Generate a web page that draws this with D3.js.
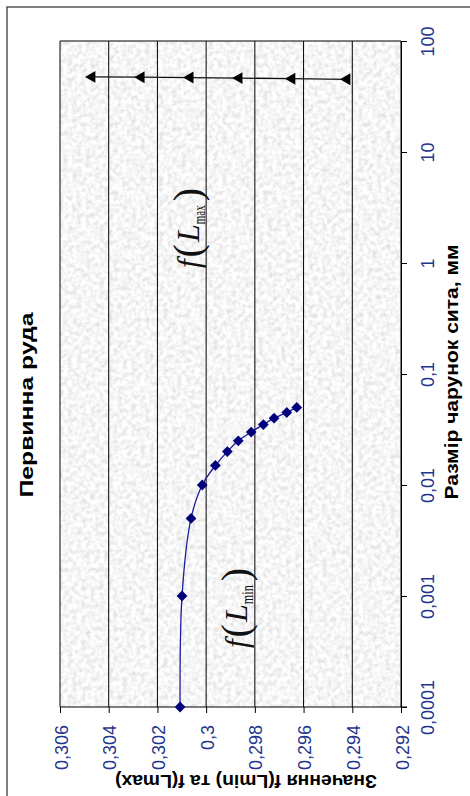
<!DOCTYPE html>
<html>
  <head>
    <meta charset="utf-8" />
    <script src="https://d3js.org/d3.v7.min.js"></script>
    <style>
      body { margin: 0; background: #fff; }
      text { font-family: "Liberation Sans", Arial, sans-serif; }
      .tick-label { fill: #1f3590; font-size: 18px; }
      .axis-title { fill: #000; font-weight: bold; font-size: 19px; }
      .note { font-family: "Liberation Serif", "Times New Roman", serif; fill: #111; }
    </style>
  </head>
  <body>
    <svg id="chart" width="470" height="796"></svg>
    <script>
      // sieve sizes, mm
      const sizeMin = [0.0001, 0.001, 0.005, 0.01, 0.015, 0.02, 0.025, 0.03, 0.035, 0.04, 0.045, 0.05];
      const fMin = [0.30107, 0.30099, 0.30062, 0.30016, 0.29962, 0.29913, 0.29868, 0.29815, 0.29765, 0.29721, 0.29669, 0.29628];
      const sizeMax = [47.5, 47.2, 46.8, 46.3, 45.8, 45.2];
      const fMax = [0.30469, 0.30267, 0.30066, 0.29865, 0.29648, 0.29422];

      const valueTicks = [0.306, 0.304, 0.302, 0.3, 0.298, 0.296, 0.294, 0.292];
      const sizeTicks = [0.0001, 0.001, 0.01, 0.1, 1, 10, 100];

      const svg = d3.select("#chart");
      const pLeft = 60, pRight = 401, pTop = 41, pBottom = 707;

      // value axis runs right-to-left, size axis bottom-to-top (chart is turned)
      const x = d3.scaleLinear().domain([0.306, 0.292]).range([pLeft, pRight]);
      const y = d3.scaleLog().domain([0.0001, 100]).range([pBottom, pTop]);
      const fmt = d => String(d).replace(".", ",");

      // granite background
      const defs = svg.append("defs");
      const flt = defs.append("filter").attr("id", "granite")
        .attr("x", 0).attr("y", 0).attr("width", 1).attr("height", 1);
      flt.append("feTurbulence").attr("type", "fractalNoise")
        .attr("baseFrequency", 0.22).attr("numOctaves", 3).attr("seed", 4);
      flt.append("feColorMatrix").attr("type", "matrix")
        .attr("values", "0.5 0 0 0 0.67  0.5 0 0 0 0.67  0.5 0 0 0 0.67  0 0 0 0 1");

      // outer frame
      svg.append("rect").attr("x", 7).attr("y", 7).attr("width", 500).attr("height", 820)
        .attr("fill", "none").attr("stroke", "#555").attr("stroke-width", 1.5);

      svg.append("rect").attr("x", pLeft).attr("y", pTop)
        .attr("width", pRight - pLeft).attr("height", pBottom - pTop)
        .attr("filter", "url(#granite)");

      // grid
      svg.append("g").selectAll("line").data(valueTicks).join("line")
        .attr("x1", d => x(d)).attr("x2", d => x(d))
        .attr("y1", pTop).attr("y2", pBottom)
        .attr("stroke", "#000").attr("stroke-width", 1);
      svg.append("line").attr("x1", pLeft).attr("x2", pRight).attr("y1", pTop).attr("y2", pTop)
        .attr("stroke", "#000");

      // value axis (bottom)
      const gx = svg.append("g").attr("transform", `translate(0,${pBottom})`)
        .call(d3.axisBottom(x).tickValues(valueTicks).tickFormat(fmt).tickSize(6).tickSizeOuter(0));
      gx.select(".domain").attr("d", `M${pLeft},0H${pRight + 6}`);
      gx.selectAll("text").attr("class", "tick-label").attr("x", 0).attr("y", 0).attr("dy", 0)
        .attr("text-anchor", "end")
        .attr("transform", "translate(7,18) rotate(-90)");

      // size axis (right)
      const gy = svg.append("g").attr("transform", `translate(${pRight},0)`)
        .call(d3.axisRight(y).tickValues(sizeTicks).tickFormat(fmt).tickSize(6).tickSizeOuter(0));
      gy.selectAll("text").attr("class", "tick-label").attr("x", 0).attr("y", 0).attr("dy", 0)
        .attr("text-anchor", "middle")
        .attr("transform", "translate(33,0) rotate(-90)");
      svg.selectAll("g[font-family]").attr("font-family", null).attr("font-size", null);
      svg.selectAll(".tick text").attr("fill", null);
      svg.selectAll(".domain, .tick line").attr("stroke", "#000");

      // f(Lmin) curve
      const minPts = sizeMin.map((s, i) => [x(fMin[i]), y(s)]);
      svg.append("path").attr("d", d3.line().curve(d3.curveCatmullRom.alpha(0.5))(minPts))
        .attr("fill", "none").attr("stroke", "#1c1c9c").attr("stroke-width", 1.3);
      svg.append("g").selectAll("path").data(minPts).join("path")
        .attr("transform", d => `translate(${d[0]},${d[1]}) rotate(45)`)
        .attr("d", d3.symbol(d3.symbolSquare, 58))
        .attr("fill", "#00007a");

      // f(Lmax) line
      const maxPts = sizeMax.map((s, i) => [x(fMax[i]), y(s)]);
      svg.append("path").attr("d", d3.line()(maxPts))
        .attr("fill", "none").attr("stroke", "#111").attr("stroke-width", 1.3);
      svg.append("g").selectAll("path").data(maxPts).join("path")
        .attr("transform", d => `translate(${d[0]},${d[1]}) rotate(-90)`)
        .attr("d", d3.symbol(d3.symbolTriangle, 62))
        .attr("fill", "#000");

      // formula notes
      function note(px, py, sub) {
        const t = svg.append("text").attr("class", "note")
          .attr("transform", `translate(${px},${py}) rotate(-90)`);
        t.append("tspan").attr("font-style", "italic").attr("font-size", 31).text("f");
        t.append("tspan").attr("font-size", 40).attr("font-weight", 300).attr("dx", 2).attr("dy", 2).text("(");
        t.append("tspan").attr("font-style", "italic").attr("font-size", 32).attr("dx", 2).attr("dy", -2).text("L");
        t.append("tspan").attr("font-size", 17).attr("dy", 6).attr("textLength", 19)
          .attr("lengthAdjust", "spacingAndGlyphs").text(sub);
        t.append("tspan").attr("font-size", 40).attr("font-weight", 300).attr("dy", -4).attr("dx", 4).text(")");
      }
      note(199, 268, "max");
      note(247, 648, "min");

      // titles
      svg.append("text").attr("class", "axis-title").attr("font-size", 22)
        .attr("text-anchor", "middle").attr("textLength", 185).attr("lengthAdjust", "spacingAndGlyphs")
        .attr("transform", "translate(33,405) rotate(-90)")
        .text("Первинна руда");
      svg.append("text").attr("class", "axis-title")
        .attr("text-anchor", "middle").attr("textLength", 255).attr("lengthAdjust", "spacingAndGlyphs")
        .attr("transform", "translate(458,372) rotate(-90)")
        .text("Размір чарунок сита, мм");
      svg.append("text").attr("class", "axis-title")
        .attr("text-anchor", "middle").attr("textLength", 262).attr("lengthAdjust", "spacingAndGlyphs")
        .attr("transform", "translate(246,775) rotate(180)")
        .text("Значення f(Lmin) та f(Lmax)");
    </script>
  </body>
</html>
